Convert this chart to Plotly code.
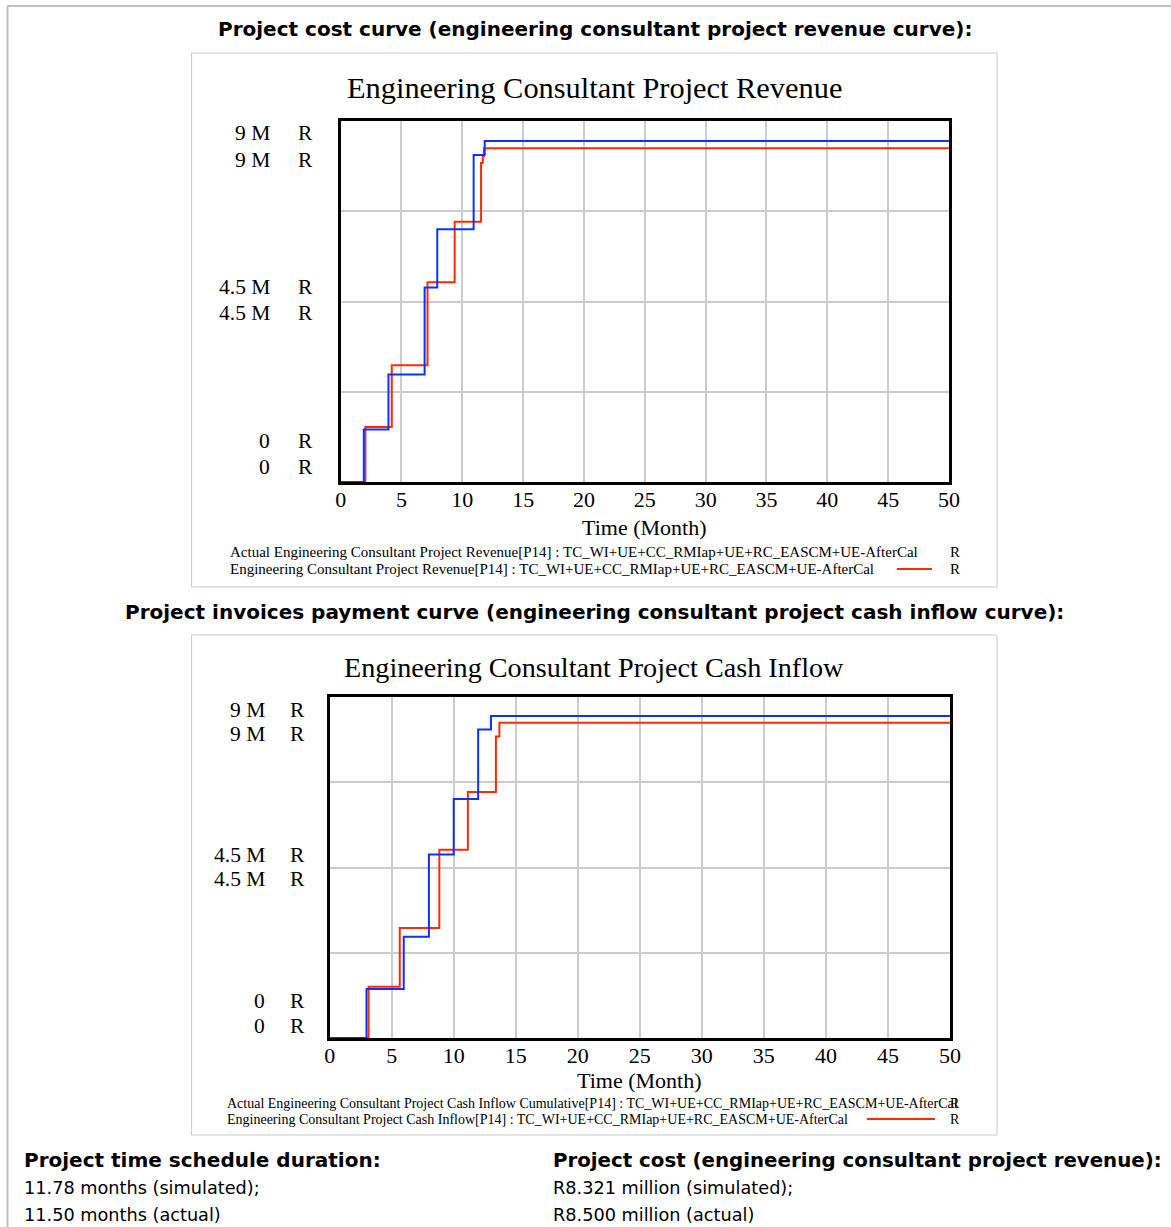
import plotly.graph_objects as go

# ---------------------------------------------------------------------------
# Data (values in millions of Rand, time in months)
# ---------------------------------------------------------------------------
rev_sim_months = [0, 2.03, 4.2, 7.14, 9.37, 11.54, 11.68, 11.78, 50]
rev_sim_values = [0, 1.37, 2.91, 4.98, 6.49, 7.95, 8.12, 8.321, 8.321]

rev_act_months = [0, 1.9, 3.93, 6.9, 7.94, 10.93, 11.84, 50]
rev_act_values = [0, 1.31, 2.68, 4.85, 6.30, 8.15, 8.50, 8.50]

cash_sim_months = [0, 3.14, 5.65, 8.84, 11.14, 13.4, 13.68, 50]
cash_sim_values = [0, 1.35, 2.90, 4.97, 6.49, 7.96, 8.321, 8.321]

cash_act_months = [0, 2.97, 5.97, 8.0, 10.0, 11.97, 13.0, 50]
cash_act_values = [0, 1.29, 2.67, 4.84, 6.31, 8.14, 8.50, 8.50]

x_ticks = [0, 5, 10, 15, 20, 25, 30, 35, 40, 45, 50]
y_ticks = [0, 4.5, 9]
y_tick_labels = ["0", "4.5 M", "9 M"]
unit_label = "R"
X_RANGE = [0, 50]
Y_RANGE = [0, 9]

rev_legend = [
    "Actual Engineering Consultant Project Revenue[P14] : TC_WI+UE+CC_RMIap+UE+RC_EASCM+UE-AfterCal",
    "Engineering Consultant Project Revenue[P14] : TC_WI+UE+CC_RMIap+UE+RC_EASCM+UE-AfterCal",
]
cash_legend = [
    "Actual Engineering Consultant Project Cash Inflow Cumulative[P14] : TC_WI+UE+CC_RMIap+UE+RC_EASCM+UE-AfterCal",
    "Engineering Consultant Project Cash Inflow[P14] : TC_WI+UE+CC_RMIap+UE+RC_EASCM+UE-AfterCal",
]

header_rev = "Project cost curve (engineering consultant project revenue curve):"
header_cash = "Project invoices payment curve (engineering consultant project cash inflow curve):"
title_rev = "Engineering Consultant Project Revenue"
title_cash = "Engineering Consultant Project Cash Inflow"
x_title = "Time (Month)"

summary_left = ["Project time schedule duration:", "11.78 months (simulated);", "11.50 months (actual)"]
summary_right = ["Project cost (engineering consultant project revenue):",
                 "R8.321 million (simulated);", "R8.500 million (actual)"]

# ---------------------------------------------------------------------------
# Page geometry helpers
# ---------------------------------------------------------------------------
W, H = 1171, 1227
XS, X0 = 0.985, 6.5          # horizontal calibration of the drawing area
BLUE = "#0a32ff"
RED = "#ff2a00"
GRID = "#cccccc"
SERIF = "Liberation Serif, Times New Roman, serif"
SANS = "DejaVu Sans, Arial, sans-serif"


def px(x):
    return (x - X0) / XS / W


def py(y):
    return 1 - y / H


fig = go.Figure()

# Revenue panel (simulated drawn first so the actual line sits on top)
fig.add_trace(go.Scatter(x=rev_sim_months, y=rev_sim_values, mode="lines",
                         line=dict(color=RED, width=2, shape="hv"),
                         xaxis="x", yaxis="y", name=rev_legend[1]))
fig.add_trace(go.Scatter(x=rev_act_months, y=rev_act_values, mode="lines",
                         line=dict(color=BLUE, width=2, shape="hv"),
                         xaxis="x", yaxis="y", name=rev_legend[0]))

# Cash inflow panel
fig.add_trace(go.Scatter(x=cash_sim_months, y=cash_sim_values, mode="lines",
                         line=dict(color=RED, width=2, shape="hv"),
                         xaxis="x2", yaxis="y2", name=cash_legend[1]))
fig.add_trace(go.Scatter(x=cash_act_months, y=cash_act_values, mode="lines",
                         line=dict(color=BLUE, width=2, shape="hv"),
                         xaxis="x2", yaxis="y2", name=cash_legend[0]))

# heavy black border of each plotting area: mirrored axis lines kept under the curves
FRAME = dict(showline=True, mirror=True, linecolor="black", linewidth=3,
             layer="below traces")


def x_axis(left, right, anchor):
    return dict(domain=[px(left), px(right)], range=X_RANGE, anchor=anchor,
                tickmode="array", tickvals=x_ticks, ticktext=[str(t) for t in x_ticks],
                showgrid=True, gridcolor=GRID, gridwidth=2, zeroline=False,
                ticks="", ticklabelstandoff=-4,
                tickfont=dict(family=SERIF, size=22, color="black"),
                fixedrange=True, **FRAME)


def y_axis(top, bottom, anchor):
    return dict(domain=[py(bottom), py(top)], range=Y_RANGE, anchor=anchor,
                tick0=0, dtick=2.25, showticklabels=False,
                showgrid=True, gridcolor=GRID, gridwidth=2, zeroline=False,
                ticks="", fixedrange=True, **FRAME)


annotations = []
shapes = []


def text(x, y, s, size, family=SANS, anchor="left", bold=False, color="black"):
    annotations.append(dict(
        x=px(x), y=py(y), xref="paper", yref="paper", showarrow=False,
        text=f"<b>{s}</b>" if bold else s, xanchor=anchor, yanchor="middle",
        font=dict(family=family, size=size, color=color)))


def panel(box, yref, header_y, header, title_xy, title, title_size,
          label_x, unit_x, label_offsets, xtitle_xy, legend_x, legend_y, legend,
          legend_size, swatch):
    # light frame around the panel
    shapes.append(dict(type="rect", xref="paper", yref="paper",
                       x0=px(box[0]), x1=px(box[2]), y0=py(box[1]), y1=py(box[3]),
                       line=dict(color="#c8c8c8", width=1), layer="below"))
    text(595, header_y, header, 20, bold=True, anchor="center")
    text(title_xy[0], title_xy[1], title, title_size, family=SERIF, anchor="center")
    # doubled scale labels, one pair per tick value
    for val, lab, offs in zip(y_ticks, y_tick_labels, label_offsets):
        for dy in offs:
            annotations.append(dict(x=px(label_x), y=val, xref="paper", yref=yref,
                                    yshift=-dy, showarrow=False, text=lab,
                                    xanchor="right", yanchor="middle",
                                    font=dict(family=SERIF, size=21.5, color="black")))
            annotations.append(dict(x=px(unit_x), y=val, xref="paper", yref=yref,
                                    yshift=-dy, showarrow=False, text=unit_label,
                                    xanchor="center", yanchor="middle",
                                    font=dict(family=SERIF, size=21.5, color="black")))
    text(xtitle_xy[0], xtitle_xy[1], x_title, 22, family=SERIF, anchor="center")
    for s, yy in zip(legend, legend_y):
        text(legend_x, yy, s, legend_size, family=SERIF)
        text(955, yy, unit_label, legend_size, family=SERIF, anchor="center")
    shapes.append(dict(type="line", xref="paper", yref="paper",
                       x0=px(swatch[0]), x1=px(swatch[1]),
                       y0=py(legend_y[1]), y1=py(legend_y[1]),
                       line=dict(color=RED, width=2)))


panel(box=(192, 53, 997, 587), yref="y", header_y=29, header=header_rev,
      title_xy=(595, 88), title=title_rev, title_size=30.4, label_x=272, unit_x=306,
      label_offsets=[(-41, -15), (-14.5, 11.5), (12, 39)],
      xtitle_xy=(644, 527), legend_x=228, legend_y=(552, 569), legend=rev_legend,
      legend_size=15, swatch=(897, 932))

panel(box=(192, 635, 997, 1135), yref="y2", header_y=612, header=header_cash,
      title_xy=(594, 667), title=title_cash, title_size=28.2, label_x=267, unit_x=298,
      label_offsets=[(-37, -12), (-12.5, 11.5), (13, 37)],
      xtitle_xy=(639, 1080), legend_x=225, legend_y=(1103, 1119), legend=cash_legend,
      legend_size=14, swatch=(867, 935))

# Summary block at the foot of the page
for i, (l, r) in enumerate(zip(summary_left, summary_right)):
    yy = [1160, 1188, 1215][i]
    text(22, yy, l, 20 if i == 0 else 17.7, bold=(i == 0))
    text(551, yy, r, 19.8 if i == 0 else 17.7, bold=(i == 0))

# Thin page rule along the top and left edges
shapes.append(dict(type="line", xref="paper", yref="paper", x0=px(8), x1=1.05,
                   y0=py(6), y1=py(6), line=dict(color="#c0c0c0", width=2)))
shapes.append(dict(type="line", xref="paper", yref="paper", x0=px(8), x1=px(8),
                   y0=py(6), y1=-0.05, line=dict(color="#c0c0c0", width=2)))

fig.update_layout(
    width=W, height=H, margin=dict(l=0, r=0, t=0, b=0),
    paper_bgcolor="white", plot_bgcolor="white", showlegend=False,
    xaxis=x_axis(341, 949, "y"), yaxis=y_axis(121, 482, "x"),
    xaxis2=x_axis(330, 950, "y2"), yaxis2=y_axis(697, 1038, "x2"),
    annotations=annotations, shapes=shapes,
)

fig.write_html("out.html")
